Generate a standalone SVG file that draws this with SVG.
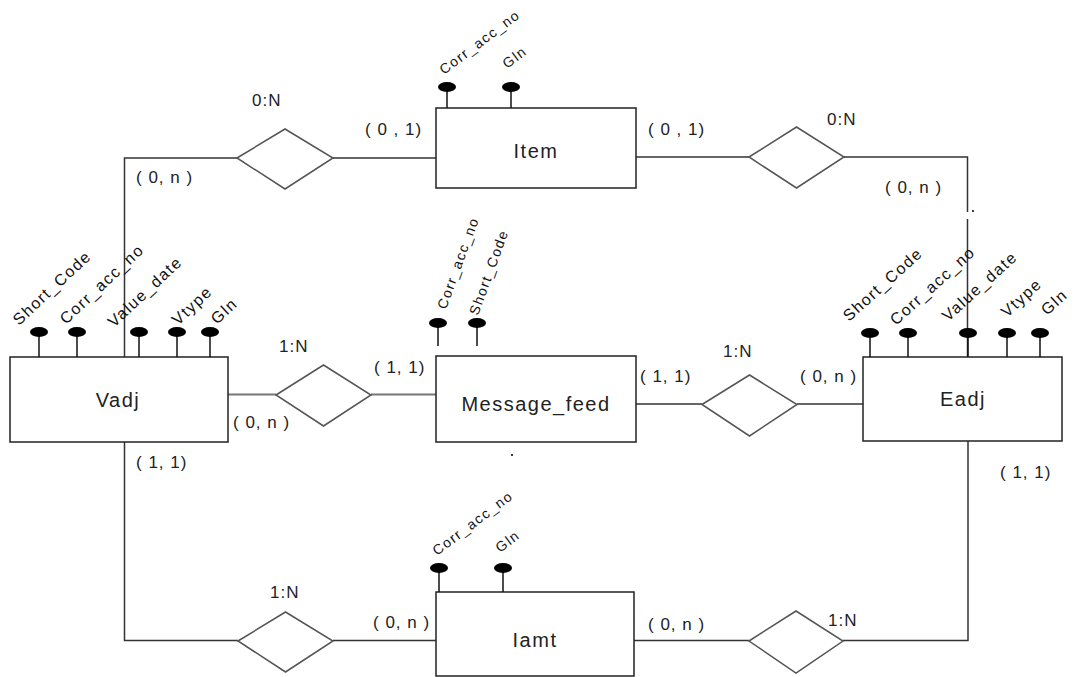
<svg xmlns="http://www.w3.org/2000/svg" width="1080" height="677" viewBox="0 0 1080 677">
<style>
.bg{fill:#fff}
.box{fill:#fff;stroke:#222;stroke-width:1.5}
.ln{fill:none;stroke:#333;stroke-width:1.5}
.ln2{fill:none;stroke:#777;stroke-width:2.2}
.dia{fill:#fff;stroke:#555;stroke-width:1.5}
.stem{stroke:#111;stroke-width:1.5}
.dot{fill:#000}
.card{font-family:"Liberation Sans",Arial,sans-serif;font-size:17px;letter-spacing:1px;fill:#222}
.name{font-family:"Liberation Sans",Arial,sans-serif;font-size:20px;letter-spacing:1.5px;fill:#222;text-anchor:middle}
.attr{font-family:"Liberation Sans",Arial,sans-serif;font-size:16px;letter-spacing:1.5px;fill:#111}
.attrs{font-family:"Liberation Sans",Arial,sans-serif;font-size:14px;letter-spacing:1.5px;fill:#111}
</style>
<rect class="bg" x="0" y="0" width="1080" height="677"/>

<g id="connectors">
  <polyline class="ln" points="124.5,357 124.5,158 237,158"/>
  <line class="ln" x1="333" y1="158" x2="436" y2="158"/>
  <polygon class="dia" points="237,158 285,129 333,158 285,189"/>

  <line class="ln" x1="636" y1="157" x2="749" y2="157"/>
  <polygon class="dia" points="749,157 796.5,127 844,157 796.5,188"/>
  <polyline class="ln" points="844,157 967.5,157 967.5,212"/>
  <line class="ln" x1="967.5" y1="219" x2="967.5" y2="357"/>

  <line class="ln2" x1="228" y1="394.5" x2="276" y2="394.5"/>
  <line class="ln2" x1="371" y1="394.5" x2="436" y2="394.5"/>
  <polygon class="dia" points="276,395 323.5,365 371,395 323.5,426"/>

  <line class="ln" x1="636" y1="404" x2="702" y2="404"/>
  <line class="ln" x1="797" y1="404" x2="863" y2="404"/>
  <polygon class="dia" points="702,404.5 749.5,375 797,404.5 749.5,436"/>

  <polyline class="ln" points="124.5,442 124.5,640.5 238,640.5"/>
  <line class="ln" x1="333" y1="640.5" x2="436" y2="640.5"/>
  <polygon class="dia" points="238,641 285.5,612 333,641 285.5,672"/>

  <line class="ln" x1="634" y1="640.5" x2="749" y2="640.5"/>
  <polyline class="ln" points="843,640.5 968,640.5 968,441"/>
  <polygon class="dia" points="749,641 796,611 843,641 796,673"/>

  <circle class="dot" cx="973" cy="211" r="1"/>
  <circle class="dot" cx="512" cy="455" r="1"/>

  <text class="card" x="252" y="106">0:N</text>
  <text class="card" x="365" y="135">( 0 , 1)</text>
  <text class="card" x="136" y="183">( 0, n )</text>
  <text class="card" x="648" y="135">( 0 , 1)</text>
  <text class="card" x="827" y="125">0:N</text>
  <text class="card" x="885" y="193">( 0, n )</text>

  <text class="card" x="279" y="352">1:N</text>
  <text class="card" x="374" y="373">( 1, 1)</text>
  <text class="card" x="233" y="428">( 0, n )</text>
  <text class="card" x="640" y="382">( 1, 1)</text>
  <text class="card" x="723" y="357">1:N</text>
  <text class="card" x="800" y="382">( 0, n )</text>

  <text class="card" x="136" y="468">( 1, 1)</text>
  <text class="card" x="1000" y="478">( 1, 1)</text>
  <text class="card" x="270" y="598">1:N</text>
  <text class="card" x="373" y="628">( 0, n )</text>
  <text class="card" x="648" y="630">( 0, n )</text>
  <text class="card" x="828" y="626">1:N</text>
</g>

<g id="item">
  <rect class="box" x="436" y="108" width="200" height="80"/>
  <text class="name" x="536" y="158">Item</text>
  <line class="stem" x1="447" y1="87" x2="447" y2="108"/>
  <ellipse cx="447" cy="87" rx="9" ry="5"/>
  <line class="stem" x1="511" y1="87" x2="511" y2="108"/>
  <ellipse cx="511" cy="87" rx="9" ry="5"/>
  <text class="attrs" transform="translate(444,75) rotate(-37)">Corr_acc_no</text>
  <text class="attrs" transform="translate(507,69) rotate(-37)">Gln</text>
</g>

<g id="vadj">
  <rect class="box" x="10" y="357" width="218" height="85"/>
  <text class="name" x="118" y="407">Vadj</text>
  <line class="stem" x1="39" y1="332" x2="39" y2="357"/>
  <ellipse cx="39" cy="332" rx="9" ry="5"/>
  <line class="stem" x1="77" y1="332" x2="77" y2="357"/>
  <ellipse cx="77" cy="332" rx="9" ry="5"/>
  <line class="stem" x1="139" y1="332" x2="139" y2="357"/>
  <ellipse cx="139" cy="332" rx="9" ry="5"/>
  <line class="stem" x1="177" y1="332" x2="177" y2="357"/>
  <ellipse cx="177" cy="332" rx="9" ry="5"/>
  <line class="stem" x1="210" y1="332" x2="210" y2="357"/>
  <ellipse cx="210" cy="332" rx="9" ry="5"/>
  <text class="attr" transform="translate(19,326) rotate(-43)">Short_Code</text>
  <text class="attr" transform="translate(66,325) rotate(-43)">Corr_acc_no</text>
  <text class="attr" transform="translate(114,328) rotate(-43)">Value_date</text>
  <text class="attr" transform="translate(178,326) rotate(-43)">Vtype</text>
  <text class="attr" transform="translate(217,325) rotate(-43)">Gln</text>
</g>

<g id="message_feed">
  <rect class="box" x="436" y="356" width="200" height="86"/>
  <text class="name" x="536" y="411">Message_feed</text>
  <line class="stem" x1="438" y1="323" x2="438" y2="346"/>
  <ellipse cx="438" cy="323" rx="9" ry="5"/>
  <line class="stem" x1="477" y1="323" x2="477" y2="346"/>
  <ellipse cx="477" cy="323" rx="9" ry="5"/>
  <text class="attrs" transform="translate(446,310) rotate(-70)">Corr_acc_no</text>
  <text class="attrs" transform="translate(478,316) rotate(-70)">Short_Code</text>
</g>

<g id="eadj">
  <rect class="box" x="863" y="357" width="199" height="84"/>
  <text class="name" x="963" y="406">Eadj</text>
  <line class="stem" x1="870" y1="333" x2="870" y2="357"/>
  <ellipse cx="870" cy="333" rx="9" ry="5"/>
  <line class="stem" x1="908" y1="333" x2="908" y2="357"/>
  <ellipse cx="908" cy="333" rx="9" ry="5"/>
  <line class="stem" x1="968" y1="333" x2="968" y2="357"/>
  <ellipse cx="968" cy="333" rx="9" ry="5"/>
  <line class="stem" x1="1007" y1="333" x2="1007" y2="357"/>
  <ellipse cx="1007" cy="333" rx="9" ry="5"/>
  <line class="stem" x1="1040" y1="333" x2="1040" y2="357"/>
  <ellipse cx="1040" cy="333" rx="9" ry="5"/>
  <text class="attr" transform="translate(849,322) rotate(-42)">Short_Code</text>
  <text class="attr" transform="translate(896,326) rotate(-42)">Corr_acc_no</text>
  <text class="attr" transform="translate(948,322) rotate(-42)">Value_date</text>
  <text class="attr" transform="translate(1007,318) rotate(-42)">Vtype</text>
  <text class="attr" transform="translate(1047,316) rotate(-42)">Gln</text>
</g>

<g id="iamt">
  <rect class="box" x="436" y="592" width="198" height="84"/>
  <text class="name" x="535" y="647">Iamt</text>
  <line class="stem" x1="439" y1="568" x2="439" y2="592"/>
  <ellipse cx="439" cy="568" rx="9" ry="5"/>
  <line class="stem" x1="503" y1="568" x2="503" y2="592"/>
  <ellipse cx="503" cy="568" rx="9" ry="5"/>
  <text class="attrs" transform="translate(437,556) rotate(-37)">Corr_acc_no</text>
  <text class="attrs" transform="translate(500,553) rotate(-37)">Gln</text>
</g>
</svg>
